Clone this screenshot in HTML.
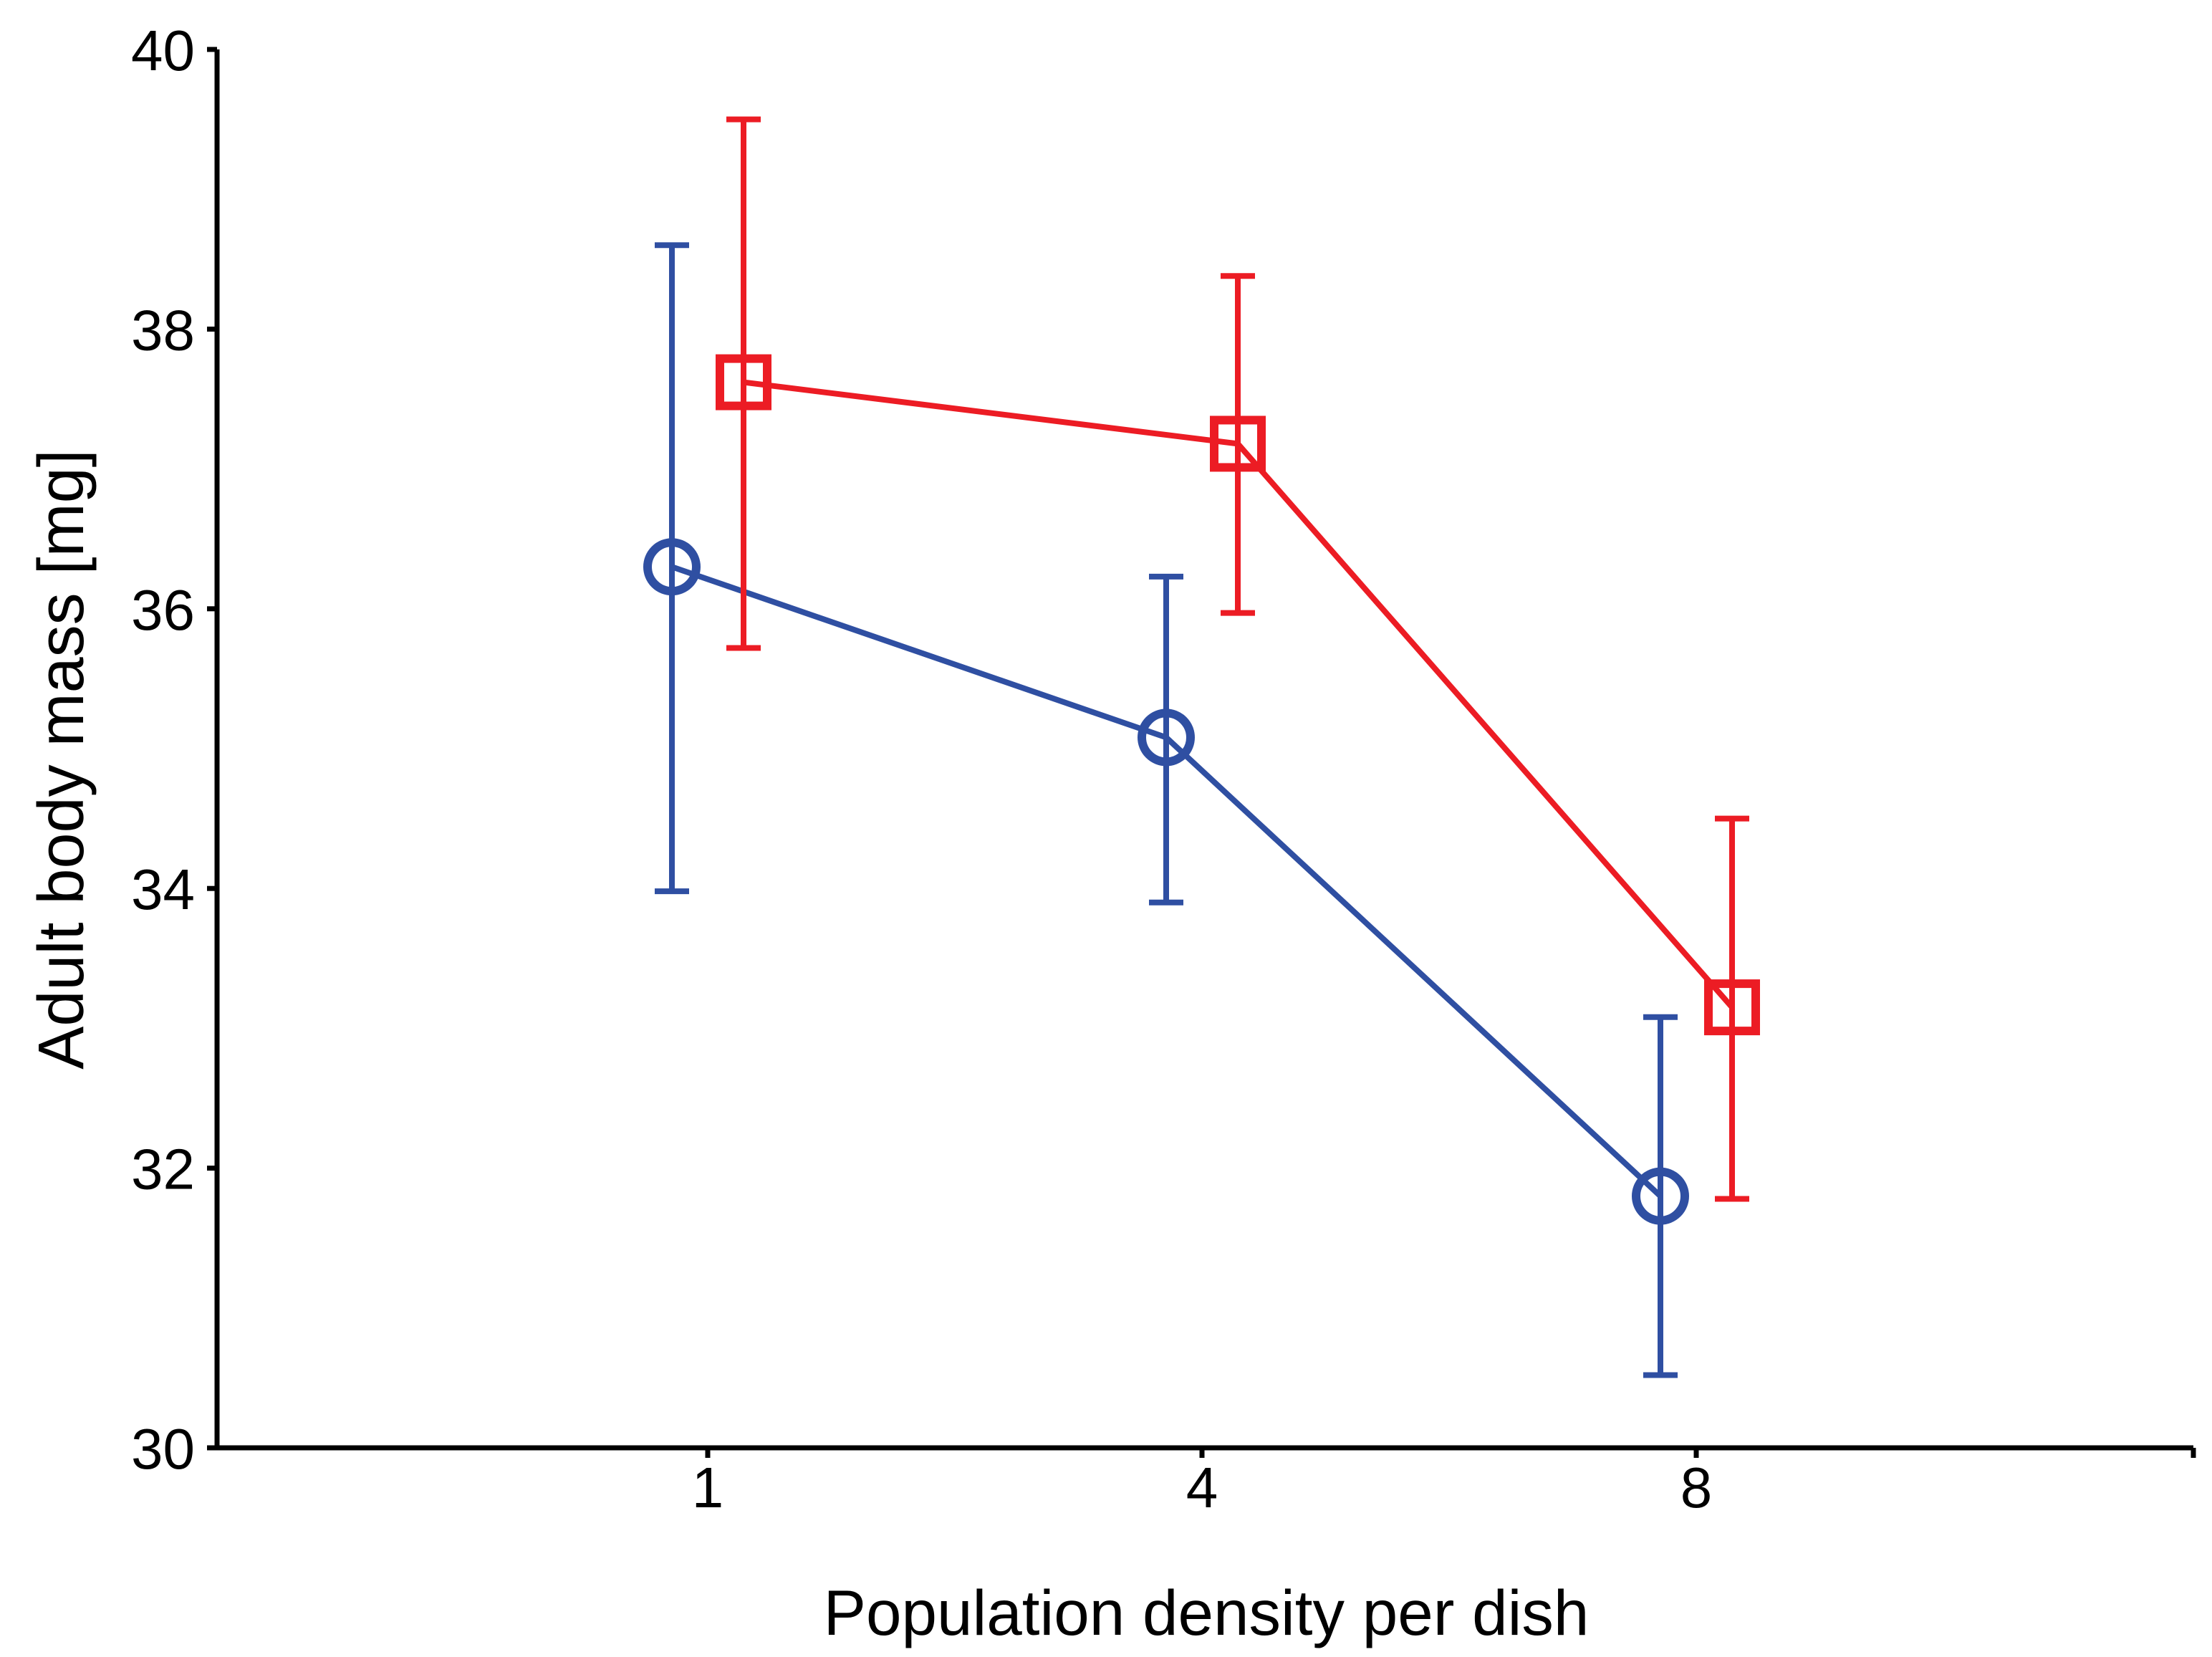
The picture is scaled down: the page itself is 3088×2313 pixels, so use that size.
<!DOCTYPE html>
<html><head><meta charset="utf-8"><style>
html,body{margin:0;padding:0;background:#fff}
svg{display:block}
text{font-family:"Liberation Sans",Arial,sans-serif;fill:#000}
</style></head><body>
<svg id="chart" width="3088" height="2313" viewBox="0 0 3088 2313" xmlns="http://www.w3.org/2000/svg">
<g id="axes"></g>
<g id="series"></g>
<text x="1684" y="2282" font-size="89" text-anchor="middle">Population density per dish</text>
<text transform="translate(116,1060) rotate(-90)" font-size="90" text-anchor="middle">Adult body mass [mg]</text>
</svg>
<script>
const categories = ["1","4","8"];
const yTicks = [30,32,34,36,38,40];
const blueMean = [36.3, 35.08, 31.8];
const blueLow = [33.98, 33.9, 30.52];
const blueHigh = [38.6, 36.23, 33.08];
const redMean = [37.62, 37.18, 33.15];
const redLow = [35.72, 35.97, 31.78];
const redHigh = [39.5, 38.38, 34.5];

const NS="http://www.w3.org/2000/svg";
const X0=303, X1=3062, Y0=2021, Y1=69, yMin=30, yMax=40;
const yS = v => Y0 - (v-yMin)/(yMax-yMin)*(Y0-Y1);
const xS = i => 988 + i*690;
function mk(parent, tag, attrs){const e=document.createElementNS(NS,tag);for(const k in attrs)e.setAttribute(k,attrs[k]);parent.appendChild(e);return e;}
const axes=document.getElementById('axes'), series=document.getElementById('series');

let e=mk(axes,'line',{x1:X0,y1:Y1,x2:X0,y2:Y0,stroke:'#000','stroke-width':7});


e=mk(axes,'line',{x1:X0-3,y1:Y0,x2:X1,y2:Y0,stroke:'#000','stroke-width':7});


mk(axes,'line',{x1:X1,y1:Y0,x2:X1,y2:Y0+14,stroke:'#000','stroke-width':7});
yTicks.forEach(v=>{
  const y=yS(v);
  let t=mk(axes,'line',{x1:X0-14,y1:y,x2:X0,y2:y,stroke:'#000','stroke-width':7});
  
  
  let l=mk(axes,'text',{x:272,y:y+29,'font-size':80,'text-anchor':'end'});
  l.textContent=v;
  
  
});
categories.forEach((c,i)=>{
  const x=xS(i);
  let t=mk(axes,'line',{x1:x,y1:Y0,x2:x,y2:Y0+14,stroke:'#000','stroke-width':7});
  
  
  let l=mk(axes,'text',{x:x,y:2104,'font-size':80,'text-anchor':'middle'});
  l.textContent=c;
  
  
});

function drawSeries(mean,low,high,color,off,shape,name){
  const g=mk(series,'g',{});
  
  
  mean.forEach((m,i)=>{
    const x=xS(i)+off;
    const eb=mk(g,'path',{d:`M${x},${yS(low[i])}V${yS(high[i])}M${x-24},${yS(low[i])}H${x+24}M${x-24},${yS(high[i])}H${x+24}`,stroke:color,'stroke-width':8,fill:'none'});
    
    
  });
  const pl=mk(g,'polyline',{points:mean.map((m,i)=>`${xS(i)+off},${yS(m)}`).join(' '),stroke:color,'stroke-width':8,fill:'none'});
  
  
  mean.forEach((m,i)=>{
    const x=xS(i)+off, y=yS(m);
    let p;
    if(shape==='circle') p=mk(g,'circle',{cx:x,cy:y,r:34,fill:'none',stroke:color,'stroke-width':12});
    else p=mk(g,'rect',{x:x-33,y:y-33,width:66,height:66,fill:'none',stroke:color,'stroke-width':12});
    
    
  });
}
drawSeries(blueMean,blueLow,blueHigh,'#2f4fa2',-50,'circle','blue');
drawSeries(redMean,redLow,redHigh,'#ec1c24',50,'square','red');
</script>
</body></html>
